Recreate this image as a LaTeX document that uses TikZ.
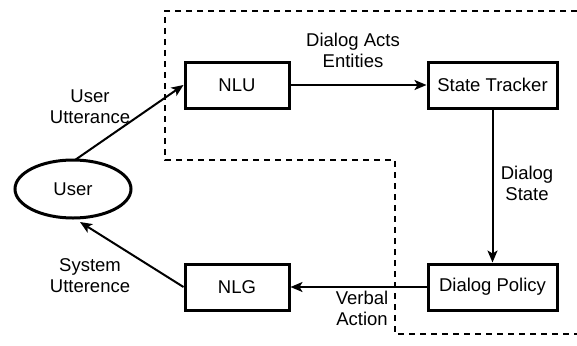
\documentclass[tikz,border=0pt]{standalone}
\usepackage{fontspec}
\setmainfont{Liberation Sans}
\usetikzlibrary{arrows.meta,shapes.geometric}
\begin{document}
\begin{tikzpicture}[x=1pt,y=-1pt,
  every node/.style={font=\fontsize{18.5}{21}\selectfont},
  box/.style={draw,line width=3pt,minimum width=104pt,minimum height=46pt,inner sep=0pt},
  wbox/.style={box,minimum width=129pt},
  usr/.style={draw,ellipse,line width=3pt,minimum width=116pt,minimum height=58pt,inner sep=0pt},
  conn/.style={line width=2pt,-{Stealth[length=12pt,width=10pt,inset=3pt]}},
  lbl/.style={align=center,inner sep=0pt},
  region/.style={line width=2pt,dash pattern=on 6pt off 5pt}]
\useasboundingbox (0,0) rectangle (577,345);
\draw[region] (577,11) -- (165,11) -- (165,160) -- (395,160) -- (395,334) -- (577,334);
\node[box] (nlu) at (237,85) {NLU};
\node[wbox] (st) at (492.5,85) {State Tracker};
\node[wbox] (dp) at (492.5,287) {Dialog Policy};
\node[box] (nlg) at (237,287) {NLG};
\node[usr] (user) at (73,189) {User};
\coordinate (ua) at (75,160);
\coordinate (ub) at (80,222);
\draw[conn] (ua) -- (nlu.west);
\draw[conn] (nlu) -- (st);
\draw[conn] (st) -- (dp);
\draw[conn] (dp) -- (nlg);
\draw[conn] (nlg.west) -- (ub);
\node[lbl] (l1) at (90,107) {User\\Utterance};
\node[lbl] (l2) at (90,275.5) {System\\Utterence};
\node[lbl] (l3) at (353,50.5) {Dialog Acts\\Entities};
\node[lbl] (l4) at (527,183) {Dialog\\State};
\node[lbl] (l5) at (362,308.5) {Verbal\\Action};
\end{tikzpicture}
\end{document}
